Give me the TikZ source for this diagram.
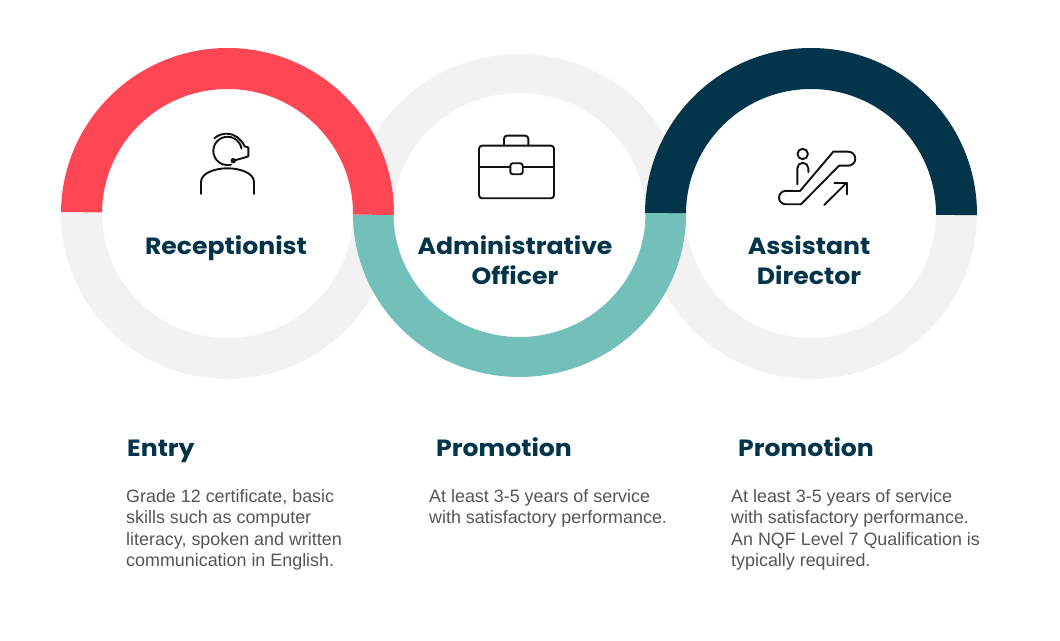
\documentclass[tikz,border=0pt]{standalone}
\usepackage{fontspec}
\setmainfont{Liberation Sans}
\newfontfamily\headfont[FakeStretch=1.07]{Poppins}
\definecolor{navy}{HTML}{02344A}
\definecolor{coral}{HTML}{FF4654}
\definecolor{teal2}{HTML}{72C0B9}
\definecolor{ringgray}{HTML}{F2F2F2}
\definecolor{bodygray}{HTML}{555555}
\definecolor{iconblack}{HTML}{111111}
\tikzset{
  ttl/.style={font=\headfont\bfseries\fontsize{23.5}{30}\selectfont,text=navy,inner sep=0pt,align=center},
  sub/.style={font=\headfont\bfseries\fontsize{23.5}{30}\selectfont,text=navy,inner sep=0pt,anchor=base west},
  bodytext/.style={font=\fontsize{17.9}{21.5}\selectfont,text=bodygray,inner sep=0pt,align=left,anchor=north west},
  icon/.style={draw=iconblack,line width=1.9pt,line cap=round,line join=round}
}
% half ring: colour cx cy rxo ryo rxi ryi start end
\newcommand{\halfring}[9]{\fill[#1] ($(#2,#3)+(#8:#4 and #5)$) arc[start angle=#8,end angle=#9,x radius=#4,y radius=#5]
  -- ($(#2,#3)+(#9:#6 and #7)$) arc[start angle=#9,end angle=#8,x radius=#6,y radius=#7] -- cycle;}
\usetikzlibrary{calc}
\begin{document}
\begin{tikzpicture}[x=1pt,y=1pt]
\useasboundingbox (0,0) rectangle (1060,640);
\fill[white] (0,0) rectangle (1060,640);
% rings (y = 640 - pixel y)
\halfring{ringgray}{227.5}{426.5}{166.5}{165.5}{125.5}{124.5}{179.5}{359.5}
\halfring{ringgray}{811}{426}{166}{165}{125}{124}{179.6}{359.6}
\halfring{ringgray}{519.5}{426}{166.5}{160}{126}{121}{0.35}{180.35}
\halfring{teal2}{519.5}{426}{166.5}{163}{126}{123}{180.35}{360.35}
\halfring{coral}{227.5}{426.5}{166.5}{165.5}{125.5}{124.5}{-0.5}{179.5}
\halfring{navy}{811}{426}{166}{166}{125}{125}{-0.4}{179.6}
% titles
\node[ttl] (t1) at (226,391.5) {Receptionist};
\node[ttl] (t2) at (515,380) {Administrative\\Officer};
\node[ttl] (t3) at (809,380) {Assistant\\Director};
% headings
\node[sub] (h1) at (127,183) {Entry};
\node[sub] (h2) at (436,183) {Promotion};
\node[sub] (h3) at (738,183) {Promotion};
% body
\node[bodytext] (b1) at (126,151) {Grade 12 certificate, basic\\skills such as computer\\literacy, spoken and written\\communication in English.};
\node[bodytext] (b2) at (429,151) {At least 3-5 years of service\\with satisfactory performance.};
\node[bodytext] (b3) at (731,151) {At least 3-5 years of service\\with satisfactory performance.\\An NQF Level 7 Qualification is\\typically required.};
% headset icon
\draw[icon] (241.5,491.5) arc[start angle=10,end angle=285,radius=14.2];
\draw[icon] (214.3,501.7) .. controls (222,508.5) and (236,509) .. (244,495);
\draw[icon] (244,494) -- (248.3,492.5) -- (248.3,483.8) -- (245.5,482.7);
\draw[icon] (245.5,482.7) -- (233.5,479.3);
\fill[iconblack] (233.3,479.3) circle[radius=2.7];
\draw[icon] (201,446) -- (201,458) .. controls (201,467) and (215,471.7) .. (227.5,471.7) .. controls (240,471.7) and (254,467) .. (254,458) -- (254,446);
% briefcase icon
\draw[icon,rounded corners=3pt] (479,494.3) rectangle (554,441.7);
\draw[icon,rounded corners=3pt] (504,494.3) -- (504,504.3) -- (528.3,504.3) -- (528.3,494.3);
\draw[icon] (479,472.7) -- (510.3,472.7);
\draw[icon] (522.7,472.7) -- (554,472.7);
\draw[icon,rounded corners=2.5pt] (510.3,476.7) -- (522.7,476.7) -- (522.7,465.7) -- (510.3,465.7) -- cycle;
% escalator icon
\draw[icon] (802.7,486) circle[radius=5.2];
\draw[icon] (797.3,455.7) -- (797.3,471.7) arc[start angle=180,end angle=0,radius=5.5] -- (808.3,468);
\draw[icon] (833.3,488.3) -- (848.3,488.3) arc[start angle=90,end angle=-90,radius=7] -- (839,474.3) -- (801,435.7) -- (785.7,435.7) arc[start angle=270,end angle=90,radius=6.7] -- (800,449) -- cycle;
\draw[icon] (824.3,435) -- (846.7,457.3);
\draw[icon] (834.3,457.3) -- (846.7,457.3) -- (846.7,445.7);
\end{tikzpicture}
\end{document}
